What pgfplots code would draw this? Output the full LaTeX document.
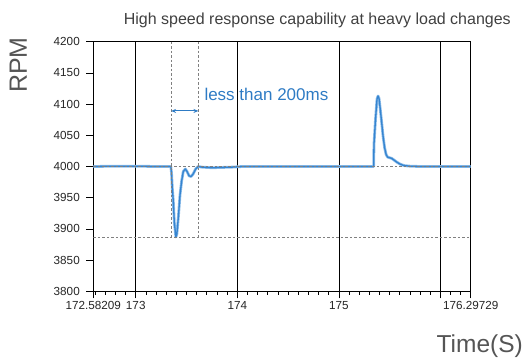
\documentclass[border=0pt]{standalone}
\usepackage{fontspec}
\setmainfont{Liberation Sans}
\usepackage{pgfplots}
\pgfplotsset{compat=1.18}
\usetikzlibrary{arrows.meta}
\definecolor{curve}{HTML}{3584D0}
\definecolor{halo}{HTML}{8DBDE9}
\definecolor{annot}{HTML}{2E7BC4}
\definecolor{dashc}{HTML}{808080}
\definecolor{labgray}{HTML}{555555}
\pgfplotstableread{
t rpm
172.58209 4000
172.8 4000.5
173.0 4000.5
173.2 4000
173.345 4000
173.352 3990
173.360 3965
173.369 3946
173.380 3910
173.395 3887
173.405 3892
173.420 3920
173.436 3955
173.452 3977
173.468 3992
173.488 3996
173.505 3992
173.525 3985
173.545 3984
173.565 3988
173.590 3996
173.615 4000
173.65 3999
173.75 3998
173.85 3998.5
173.95 3999
174.05 4000
174.5 4000
175.0 4000
175.338 4000
175.342 4000
175.345 4035
175.360 4075
175.375 4108
175.385 4113
175.395 4109
175.405 4095
175.420 4072
175.435 4048
175.450 4030
175.465 4019
175.480 4015
175.500 4014
175.520 4013
175.545 4010
175.570 4007
175.600 4004
175.640 4001.5
175.700 4000.5
175.800 4000
176.0 4000
176.29729 4000
}\rpmdata
\begin{document}
\begin{tikzpicture}
\begin{axis}[
  at={(0,0)}, anchor=south west,
  scale only axis, width=377.4pt, height=249.6pt,
  xmin=172.58209, xmax=176.29729, ymin=3800, ymax=4200,
  xtick={172.58209,173,174,175,176,176.29729},
  xticklabels={172.58209,173,174,175,,176.29729},
  minor xtick={172.6,172.7,...,176.25},
  ytick={3800,3850,...,4200},
  tick pos=left, tick align=outside,
  major tick length=7pt, minor tick length=3.5pt,
  xmajorgrids,
  major grid style={black, line width=0.8pt},
  axis line style={black, line width=0.8pt},
  every tick/.style={black, line width=0.7pt},
  ticklabel style={font=\fontsize{11.7}{13}\selectfont, text=black!85},
  yticklabel style={xshift=-3pt},
  /pgf/number format/assume math mode=true,
  /pgf/number format/1000 sep={},
  scaled ticks=false,
]
\addplot[halo, line width=2.8pt, line join=round] table[x=t,y=rpm] {\rpmdata};
\addplot[curve, line width=1.3pt, line join=round] table[x=t,y=rpm] {\rpmdata};
\addplot[dashc, line width=0.7pt, dash pattern=on 2.5pt off 2pt] coordinates {(172.58209,4000) (176.29729,4000)};
\addplot[dashc, line width=0.7pt, dash pattern=on 2.5pt off 2pt] coordinates {(172.58209,3887) (176.29729,3887)};
\addplot[dashc, line width=0.7pt, dash pattern=on 2.5pt off 2pt] coordinates {(173.348,4200) (173.348,3887)};
\addplot[dashc, line width=0.7pt, dash pattern=on 2.5pt off 2pt] coordinates {(173.617,4200) (173.617,3887)};
\draw[annot, {Stealth[length=5pt,width=4pt]}-{Stealth[length=5pt,width=4pt]}, line width=1pt] (axis cs:173.348,4089) -- (axis cs:173.617,4089);
\node[anchor=base west, text=annot, font=\fontsize{17}{20}\selectfont, inner sep=0] at (axis cs:173.675,4105) {less than 200ms};
\end{axis}
\node[anchor=base east, inner sep=0, text=black!75, font=\fontsize{16}{19}\selectfont] at (417.7pt,266.3pt) {High speed response capability at heavy load changes};
\node[rotate=90, anchor=base, inner sep=0, text=labgray, font=\fontsize{25}{30}\selectfont] at (-66.3pt,226.3pt) {RPM};
\node[anchor=base east, inner sep=0, text=labgray, font=\fontsize{24.5}{29}\selectfont] at (429.7pt,-61.7pt) {Time(S)};
\pgfresetboundingbox
\path[use as bounding box] (-93.3pt,-66.7pt) rectangle (431.7pt,291.3pt);
\end{tikzpicture}
\end{document}
